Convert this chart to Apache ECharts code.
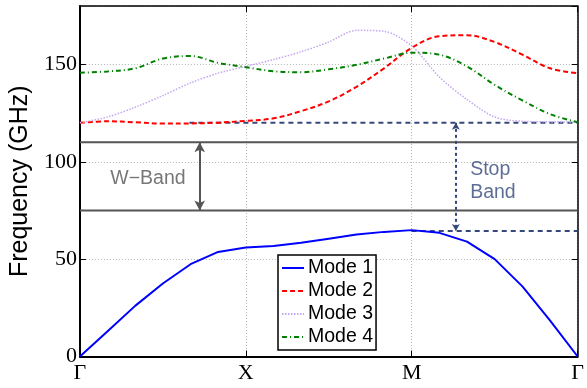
<!DOCTYPE html>
<html>
<head>
<meta charset="utf-8">
<script src="https://cdn.jsdelivr.net/npm/echarts@6/dist/echarts.min.js"></script>
<style>
html,body{margin:0;padding:0;background:#fff;}
#chart{width:587px;height:388px;}
</style>
</head>
<body>
<div id="chart"></div>
<script>
// ---- data ----
const tickLabels = ['Γ', 'X', 'M', 'Γ'];
const kPath = [0, 0.167, 0.333, 0.5, 0.667, 0.833, 1, 1.167, 1.333, 1.5, 1.667, 1.833, 2, 2.167, 2.333, 2.5, 2.667, 2.833, 3];
const mode1 = [0, 13, 26, 37.5, 47.4, 53.7, 56, 56.7, 58.4, 60.5, 62.6, 64, 64.9, 63.5, 59, 50, 36, 18.5, 0];
const mode2 = [120, 120.8, 120.3, 119.6, 119.7, 120.1, 121, 122.3, 126, 131, 138.5, 148, 158.5, 164.5, 165, 161.5, 155, 148, 145.5];
const mode3 = [120, 123, 128, 134, 140.5, 145.5, 149, 152.5, 156.5, 161.5, 167.5, 167, 159.5, 143.5, 132, 123, 120.8, 120.5, 120.3];
const mode4 = [145.7, 146.4, 148, 153, 154.3, 150.8, 148.6, 146.5, 146, 147.5, 149.8, 153, 156, 155, 149, 139.5, 131.5, 124.5, 120.3];
const seriesNames = ['Mode 1', 'Mode 2', 'Mode 3', 'Mode 4'];

const wBandEdges = [75, 110];          // W-band limits (GHz)
const wArrowX = 0.722;
const wLabel = { x: 0.41, y: 91.5, text: 'W−Band' };
const stopBandTop = 120, stopBandBottom = 64.5;
const stopTopStartX = 0.66, stopBottomStartX = 2.0;
const stopArrowX = 2.266;
const stopLabel = { x: 2.352, y: 90.3, text: 'Stop\nBand' };

const yTicks = [0, 50, 100, 150];

// ---- chart ----
const pair = (xs, ys) => xs.map((x, i) => [x, ys[i]]);
const chart = echarts.init(document.getElementById('chart'), null, { renderer: 'canvas' });

const gridLine = { show: true, lineStyle: { color: '#b5b5b5', width: 1, type: [1, 2] } };
const xCommon = {
  type: 'value', min: 0, max: 3, interval: 1,
  axisTick: { show: true, inside: true, length: 6, lineStyle: { color: '#000', width: 1 } },
};
const yCommon = {
  type: 'value', min: 0, max: 180, interval: 50,
  axisTick: { show: true, inside: true, length: 6, lineStyle: { color: '#000', width: 1 } },
};

const gray = '#555555';
const stopColor = '#34487a';

const option = {
  animation: false,
  grid: { left: 73, right: 6, top: 6, bottom: 31.5, containLabel: false },
  legend: {
    data: seriesNames,
    orient: 'vertical',
    left: 278, top: 255,
    padding: [3, 3, 3, 3],
    itemGap: 3,
    itemWidth: 22, itemHeight: 12,
    itemStyle: { opacity: 0 },
    backgroundColor: '#fff',
    borderColor: '#000', borderWidth: 1.5,
    textStyle: { fontFamily: 'Liberation Sans, Arial, sans-serif', fontSize: 19.5, color: '#000', lineHeight: 20, padding: [0, 0, 0, -1] },
  },
  xAxis: [
    Object.assign({}, xCommon, {
      position: 'bottom',
      axisLine: { show: true, lineStyle: { color: '#000', width: 2 } },
      axisLabel: {
        margin: 6,
        fontFamily: 'Liberation Serif, Times New Roman, serif', fontSize: 22, color: '#000',
        formatter: v => tickLabels[Math.round(v)]
      },
      splitLine: gridLine,
    }),
    Object.assign({}, xCommon, {
      position: 'top',
      axisLine: { show: true, onZero: false, lineStyle: { color: '#000', width: 1.5 } },
      axisLabel: { show: false },
      splitLine: { show: false },
    }),
  ],
  yAxis: [
    Object.assign({}, yCommon, {
      position: 'left',
      name: 'Frequency (GHz)',
      nameLocation: 'middle',
      nameRotate: 90,
      nameGap: 40,
      nameTextStyle: { fontFamily: 'Liberation Sans, Arial, sans-serif', fontSize: 25, color: '#000' },
      axisLine: { show: true, lineStyle: { color: '#000', width: 2 } },
      axisLabel: {
        margin: 3, showMaxLabel: false,
        fontFamily: 'Liberation Serif, Times New Roman, serif', fontSize: 22, color: '#000',
        formatter: v => (yTicks.indexOf(v) >= 0 ? String(v) : '')
      },
      splitLine: gridLine,
    }),
    Object.assign({}, yCommon, {
      position: 'right',
      axisLine: { show: true, onZero: false, lineStyle: { color: '#000', width: 1.5 } },
      axisLabel: { show: false },
      splitLine: { show: false },
    }),
  ],
  series: [
    // W-band edges
    {
      type: 'line', silent: true, symbol: 'none', z: 3,
      data: [[0, wBandEdges[1]], [3, wBandEdges[1]]],
      lineStyle: { color: gray, width: 2 },
      markLine: {
        silent: true, symbol: ['arrow', 'arrow'], symbolSize: [8, 10],
        lineStyle: { color: gray, width: 2, type: 'solid' },
        label: { show: false },
        data: [[{ coord: [wArrowX, wBandEdges[1]] }, { coord: [wArrowX, wBandEdges[0]] }]]
      }
    },
    {
      type: 'line', silent: true, symbol: 'none', z: 3,
      data: [[0, wBandEdges[0]], [3, wBandEdges[0]]],
      lineStyle: { color: gray, width: 2 },
    },
    // stop band dashed lines
    {
      type: 'line', silent: true, symbol: 'none', z: 3,
      data: [[stopTopStartX, stopBandTop], [3, stopBandTop]],
      lineStyle: { color: stopColor, width: 2, type: [5, 4] },
      markLine: {
        silent: true, symbol: ['arrow', 'arrow'], symbolSize: [6, 7],
        lineStyle: { color: stopColor, width: 2, type: [3, 3] },
        label: { show: false },
        data: [[{ coord: [stopArrowX, stopBandTop] }, { coord: [stopArrowX, stopBandBottom] }]]
      }
    },
    {
      type: 'line', silent: true, symbol: 'none', z: 3,
      data: [[stopBottomStartX, stopBandBottom], [3, stopBandBottom]],
      lineStyle: { color: stopColor, width: 2, type: [5, 4] },
    },
    // text labels
    {
      type: 'scatter', silent: true, symbolSize: 0,
      data: [[wLabel.x, wLabel.y]],
      label: { show: true, position: 'inside', formatter: wLabel.text, fontFamily: 'Liberation Sans, Arial, sans-serif', fontSize: 19.5, color: gray }
    },
    {
      type: 'scatter', silent: true, symbolSize: 0,
      data: [[stopLabel.x, stopLabel.y]],
      label: { show: true, position: 'right', distance: 0, formatter: stopLabel.text, align: 'left', lineHeight: 23, fontFamily: 'Liberation Sans, Arial, sans-serif', fontSize: 19.5, color: stopColor }
    },
    // modes
    {
      name: seriesNames[0], type: 'line', symbol: 'none', z: 5,
      data: pair(kPath, mode1),
      lineStyle: { color: '#0000ff', width: 2 }, itemStyle: { color: '#0000ff' }
    },
    {
      name: seriesNames[1], type: 'line', symbol: 'none', smooth: 0.35, z: 4,
      data: pair(kPath, mode2),
      lineStyle: { color: '#ff0000', width: 2, type: [5, 3] }, itemStyle: { color: '#ff0000' }
    },
    {
      name: seriesNames[2], type: 'line', symbol: 'none', smooth: 0.3, z: 4,
      data: pair(kPath, mode3),
      lineStyle: { color: '#c4a6f2', width: 1.5, type: [1.5, 1.5] }, itemStyle: { color: '#c4a6f2' }
    },
    {
      name: seriesNames[3], type: 'line', symbol: 'none', smooth: 0.35, z: 4,
      data: pair(kPath, mode4),
      lineStyle: { color: '#008000', width: 2, type: [5, 3, 1, 3] }, itemStyle: { color: '#008000' }
    },
  ]
};
chart.setOption(option);
</script>
</body>
</html>
